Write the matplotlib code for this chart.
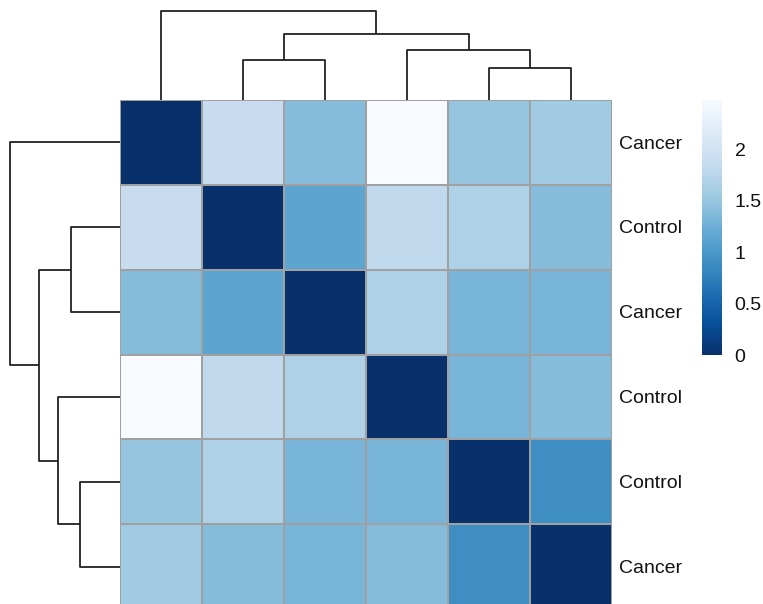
import numpy as np
import matplotlib
matplotlib.use("Agg")
import matplotlib.pyplot as plt
from matplotlib.colors import Normalize

plt.rcParams['font.family'] = ['Liberation Sans', 'DejaVu Sans']

# sample labels (rows, top to bottom)
row_labels = ["Cancer", "Control", "Cancer", "Control", "Control", "Cancer"]

# distance matrix (symmetric, zero diagonal)
dist = np.array([
    [0.00, 1.87, 1.40, 2.48, 1.50, 1.57],
    [1.87, 0.00, 1.14, 1.82, 1.67, 1.40],
    [1.40, 1.14, 0.00, 1.67, 1.32, 1.32],
    [2.48, 1.82, 1.67, 0.00, 1.32, 1.40],
    [1.50, 1.67, 1.32, 1.32, 0.00, 0.90],
    [1.57, 1.40, 1.32, 1.40, 0.90, 0.00],
])

# hierarchical merges (scipy-style: cluster a, cluster b, height)
merges = [
    (4, 5, 0.36),
    (1, 2, 0.45),
    (3, 6, 0.56),
    (7, 8, 0.74),
    (0, 9, 1.00),
]

cbar_ticks = [0, 0.5, 1, 1.5, 2]


def dendro_segments(merges, n):
    # position and height of each cluster, leaves in natural order
    pos = {i: i + 0.5 for i in range(n)}
    hgt = {i: 0.0 for i in range(n)}
    segs = []
    for k, (a, b, h) in enumerate(merges):
        segs.append(([pos[a], pos[a], pos[b], pos[b]], [hgt[a], h, h, hgt[b]]))
        pos[n + k] = (pos[a] + pos[b]) / 2
        hgt[n + k] = h
    return segs


W, H = 763, 604
fig = plt.figure(figsize=(W / 100, H / 100), dpi=100)


def px_axes(x0, y0, x1, y1):
    return fig.add_axes([x0 / W, 1 - y1 / H, (x1 - x0) / W, (y1 - y0) / H])


n = len(row_labels)
vmax = dist.max()
norm = Normalize(vmin=0, vmax=vmax)
cmap = plt.get_cmap("Blues_r")

# heatmap (bottom row runs slightly past the image edge, as in the original)
ax = px_axes(120, 100, 612, 609)
mesh = ax.pcolormesh(np.arange(n + 1), np.arange(n + 1), dist, cmap=cmap, norm=norm,
                     edgecolors="#a0a0a0", linewidth=1.2)
ax.set_xlim(0, n)
ax.set_ylim(n, 0)
ax.set_xticks([])
ax.set_yticks([])
for s in ax.spines.values():
    s.set_visible(False)
for i, lab in enumerate(row_labels):
    ax.text(n + 0.09, i + 0.52, lab, va="center", ha="left", fontsize=14, color="#111111")

segs = dendro_segments(merges, n)
top_h = merges[-1][2]

# column dendrogram
axc = px_axes(120, 4, 612, 100)
for xs, ys in segs:
    axc.plot(xs, ys, color="#222222", lw=1.3, solid_capstyle="butt")
axc.set_xlim(0, n)
axc.set_ylim(0, top_h * 96 / 89)
axc.axis("off")

# row dendrogram
axr = px_axes(0, 100, 120, 609)
for xs, ys in segs:
    axr.plot(ys, xs, color="#222222", lw=1.3, solid_capstyle="butt")
axr.set_ylim(n, 0)
axr.set_xlim(top_h * 120 / 110, 0)
axr.axis("off")

# colour bar
axb = px_axes(702, 100, 722, 355)
cb = fig.colorbar(mesh, cax=axb, ticks=cbar_ticks)
cb.outline.set_visible(False)
cb.set_ticklabels(["0", "0.5", "1", "1.5", "2"])
axb.tick_params(length=0, labelsize=14, pad=9, colors="#111111")

fig.savefig("out.png", dpi=100)
